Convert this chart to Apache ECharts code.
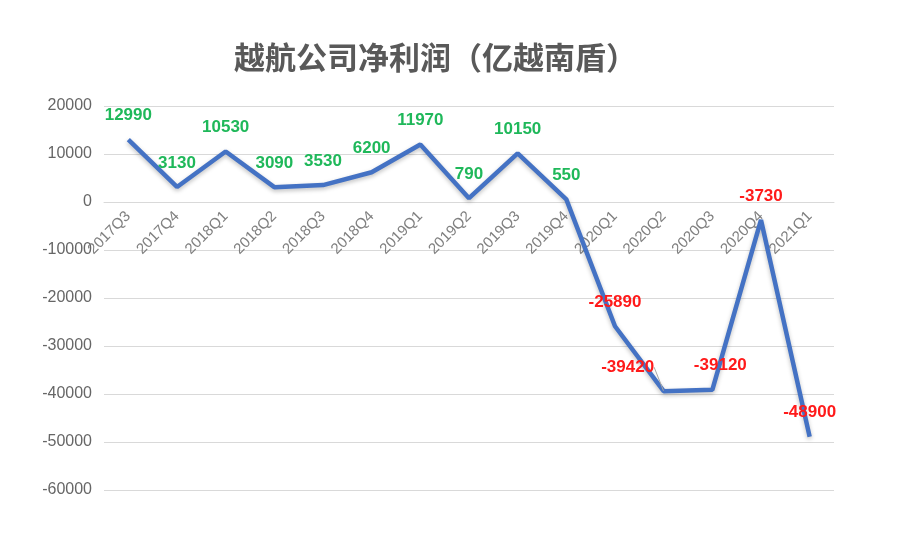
<!DOCTYPE html>
<html><head><meta charset="utf-8">
<script src="https://cdn.jsdelivr.net/npm/echarts@6/dist/echarts.min.js"></script>
<style>html,body{margin:0;padding:0;background:#fff}#c{width:915px;height:541px}</style>
</head><body><div id="c"></div>
<script>
var titleText = '越航公司净利润（亿越南盾）';
var categories = ['2017Q3','2017Q4','2018Q1','2018Q2','2018Q3','2018Q4','2019Q1','2019Q2','2019Q3','2019Q4','2020Q1','2020Q2','2020Q3','2020Q4','2021Q1'];
var profit = [12990, 3130, 10530, 3090, 3530, 6200, 11970, 790, 10150, 550, -25890, -39420, -39120, -3730, -48900];
var yTicks = {min: -60000, max: 20000, interval: 10000};

var chart = echarts.init(document.getElementById('c'));
var dataItems = profit.map(function (v, i) {
  var item = {value: v, label: {color: v >= 0 ? '#1fb85a' : '#ff1a1a'}};
  if (i === 11) item.labelLine = {show: true, lineStyle: {color: '#a6a6a6', width: 1}};
  return item;
});
chart.setOption({
  animation: false,
  title: {
    text: titleText, left: 229, top: 37,
    textStyle: {fontFamily: 'Noto Sans CJK SC', fontSize: 31, fontWeight: 'bold', color: '#595959'}
  },
  grid: {left: 104, right: 81, top: 106, bottom: 51, containLabel: false},
  xAxis: {
    type: 'category', data: categories, boundaryGap: true,
    offset: -288,
    axisLine: {show: true, onZero: false, lineStyle: {color: '#d9d9d9', width: 1}},
    axisTick: {show: false},
    axisLabel: {rotate: 45, color: '#808080', fontSize: 15, fontFamily: 'Liberation Sans', margin: 12, interval: 0}
  },
  yAxis: {
    type: 'value', min: yTicks.min, max: yTicks.max, interval: yTicks.interval,
    axisLine: {show: false}, axisTick: {show: false},
    splitLine: {lineStyle: {color: '#d9d9d9', width: 1}},
    axisLabel: {color: '#666666', fontSize: 16, fontFamily: 'Liberation Sans', margin: 12,
      formatter: function (v) { return String(v); }}
  },
  series: [{
    type: 'line', data: dataItems, symbol: 'circle', symbolSize: 1, showSymbol: true,
    itemStyle: {color: 'rgba(0,0,0,0)', borderWidth: 0},
    lineStyle: {color: '#4472c4', width: 4.5, shadowColor: 'rgba(0,0,0,0.25)', shadowBlur: 4, shadowOffsetY: 2},
    label: {show: true, position: 'top', distance: 15, fontSize: 17, fontWeight: 'bold', fontFamily: 'Liberation Sans'},
    labelLayout: function (p) {
      if (p.dataIndex === 11) return {dx: -36, hideOverlap: false};
      if (p.dataIndex === 12) return {dx: 8, hideOverlap: false};
      return {hideOverlap: false};
    }
  }]
});
</script></body></html>
